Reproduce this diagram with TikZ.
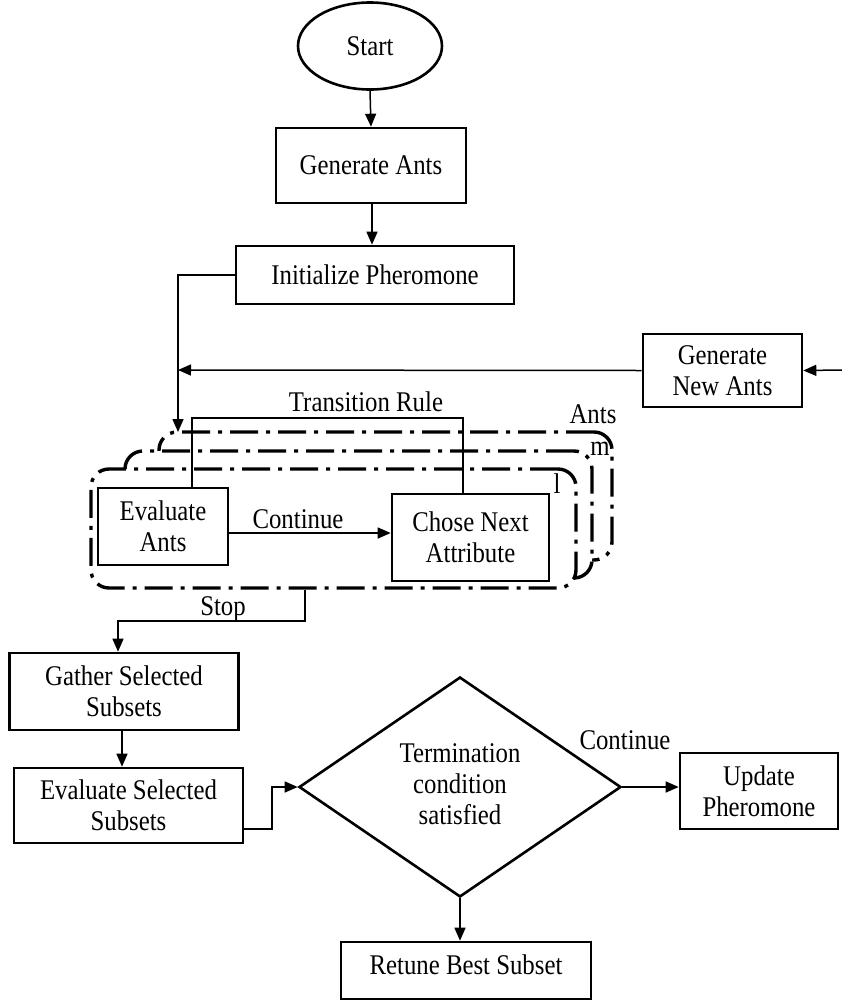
\documentclass[tikz,border=0pt]{standalone}
\usepackage{fontspec}
\setmainfont[FakeStretch=0.87]{Liberation Serif}
\usetikzlibrary{shapes.geometric,arrows.meta}
\begin{document}
\begin{tikzpicture}[x=1pt,y=-1pt,
  font=\fontsize{28.5}{31}\selectfont,
  box/.style={draw, line width=2.6pt, inner sep=0pt, align=center},
  conn/.style={line width=1.5pt},
  arr/.style={conn, -{Triangle[length=13pt,width=11pt]}},
  dd/.style={draw, line width=3.4pt, rounded corners=18pt, dash pattern=on 28pt off 8pt on 4pt off 8pt, fill=white, inner sep=0pt},
  lbl/.style={inner sep=0pt}]
\useasboundingbox[fill=white] (0,0) rectangle (842,1002);

% top part
\node[box, ellipse, minimum width=144pt, minimum height=87pt] (start) at (370,46) {Start};
\node[box, minimum width=190pt, minimum height=75pt] (genants) at (371,165.5) {Generate Ants};
\node[box, minimum width=278pt, minimum height=58pt] (init) at (375,275) {Initialize Pheromone};
\node[box, minimum width=159pt, minimum height=73pt] (newants) at (722.5,370.5) {Generate\\New Ants};

% stacked dash-dot boxes
\node[dd, minimum width=453pt, minimum height=128pt] (antsbox) at (385.5,496) {};
\node[dd, minimum width=467pt, minimum height=127pt] (mbox) at (358.5,514.5) {};
\node[dd, minimum width=485pt, minimum height=119pt] (lbox) at (333.5,528.5) {};
\node[lbl] (antslbl) at (593,414) {Ants};
\node[lbl] (mlbl) at (600,449) {m};
\node[lbl] (llbl) at (557,484) {l};

\node[box, minimum width=130pt, minimum height=77pt] (evalants) at (163,526.5) {Evaluate\\Ants};
\node[box, minimum width=157pt, minimum height=87pt] (chose) at (470.5,537.5) {Chose Next\\Attribute};

% lower part
\node[box, minimum width=229pt, minimum height=77pt] (gather) at (124,691.5) {Gather Selected\\Subsets};
\node[box, minimum width=229pt, minimum height=75pt] (evalsel) at (128.5,805.5) {Evaluate Selected\\Subsets};
\node[box, diamond, minimum width=322pt, minimum height=220pt] (term) at (460,787) {};
\node[lbl, align=center] (termtxt) at (460,784) {Termination\\condition\\satisfied};
\node[box, minimum width=158pt, minimum height=76pt] (update) at (759,791) {Update\\Pheromone};
\node[box, minimum width=250pt, minimum height=57pt] (retune) at (466,970.5) {};
\node[lbl] (retunetxt) at (466,965) {Retune Best Subset};

% coordinates
\coordinate (inright) at (842,370);
\coordinate (j1) at (178,275);
\coordinate (j2) at (178,370);
\coordinate (antstop) at (178,432);

% connectors
\draw[arr] (start.south) -- (genants.north);
\draw[arr] (372,0 |- genants.south) -- (372,0 |- init.north);
\draw[arr] (init.west) -- (j1) -- (antstop);
\draw[arr] (newants.west) -- (j2);
\draw[arr] (inright) -- (newants.east);

\draw[arr] (evalants.east |- 0,533) -- (chose.west |- 0,533);
\node[lbl] (contlbl) at (298,519) {Continue};
\draw[conn] (192,0 |- evalants.north) -- (192,418) -- (463,418) -- (463,0 |- chose.north);
\node[lbl] (translbl) at (366,402) {Transition Rule};

\draw[arr] (305,0 |- lbox.south) -- (305,621) -- (118,621) -- (118,0 |- gather.north);
\node[lbl] (stoplbl) at (223,609) {Stop};
\draw[arr] (122,0 |- gather.south) -- (122,0 |- evalsel.north);
\draw[arr] (evalsel.east |- 0,829) -- (272,829) -- (272,787) -- (term.west);
\draw[arr] (term.east) -- (update.west |- term.east);
\node[lbl] (cont2lbl) at (625,740) {Continue};
\draw[arr] (term.south) -- (term.south |- retune.north);
\end{tikzpicture}
\end{document}
